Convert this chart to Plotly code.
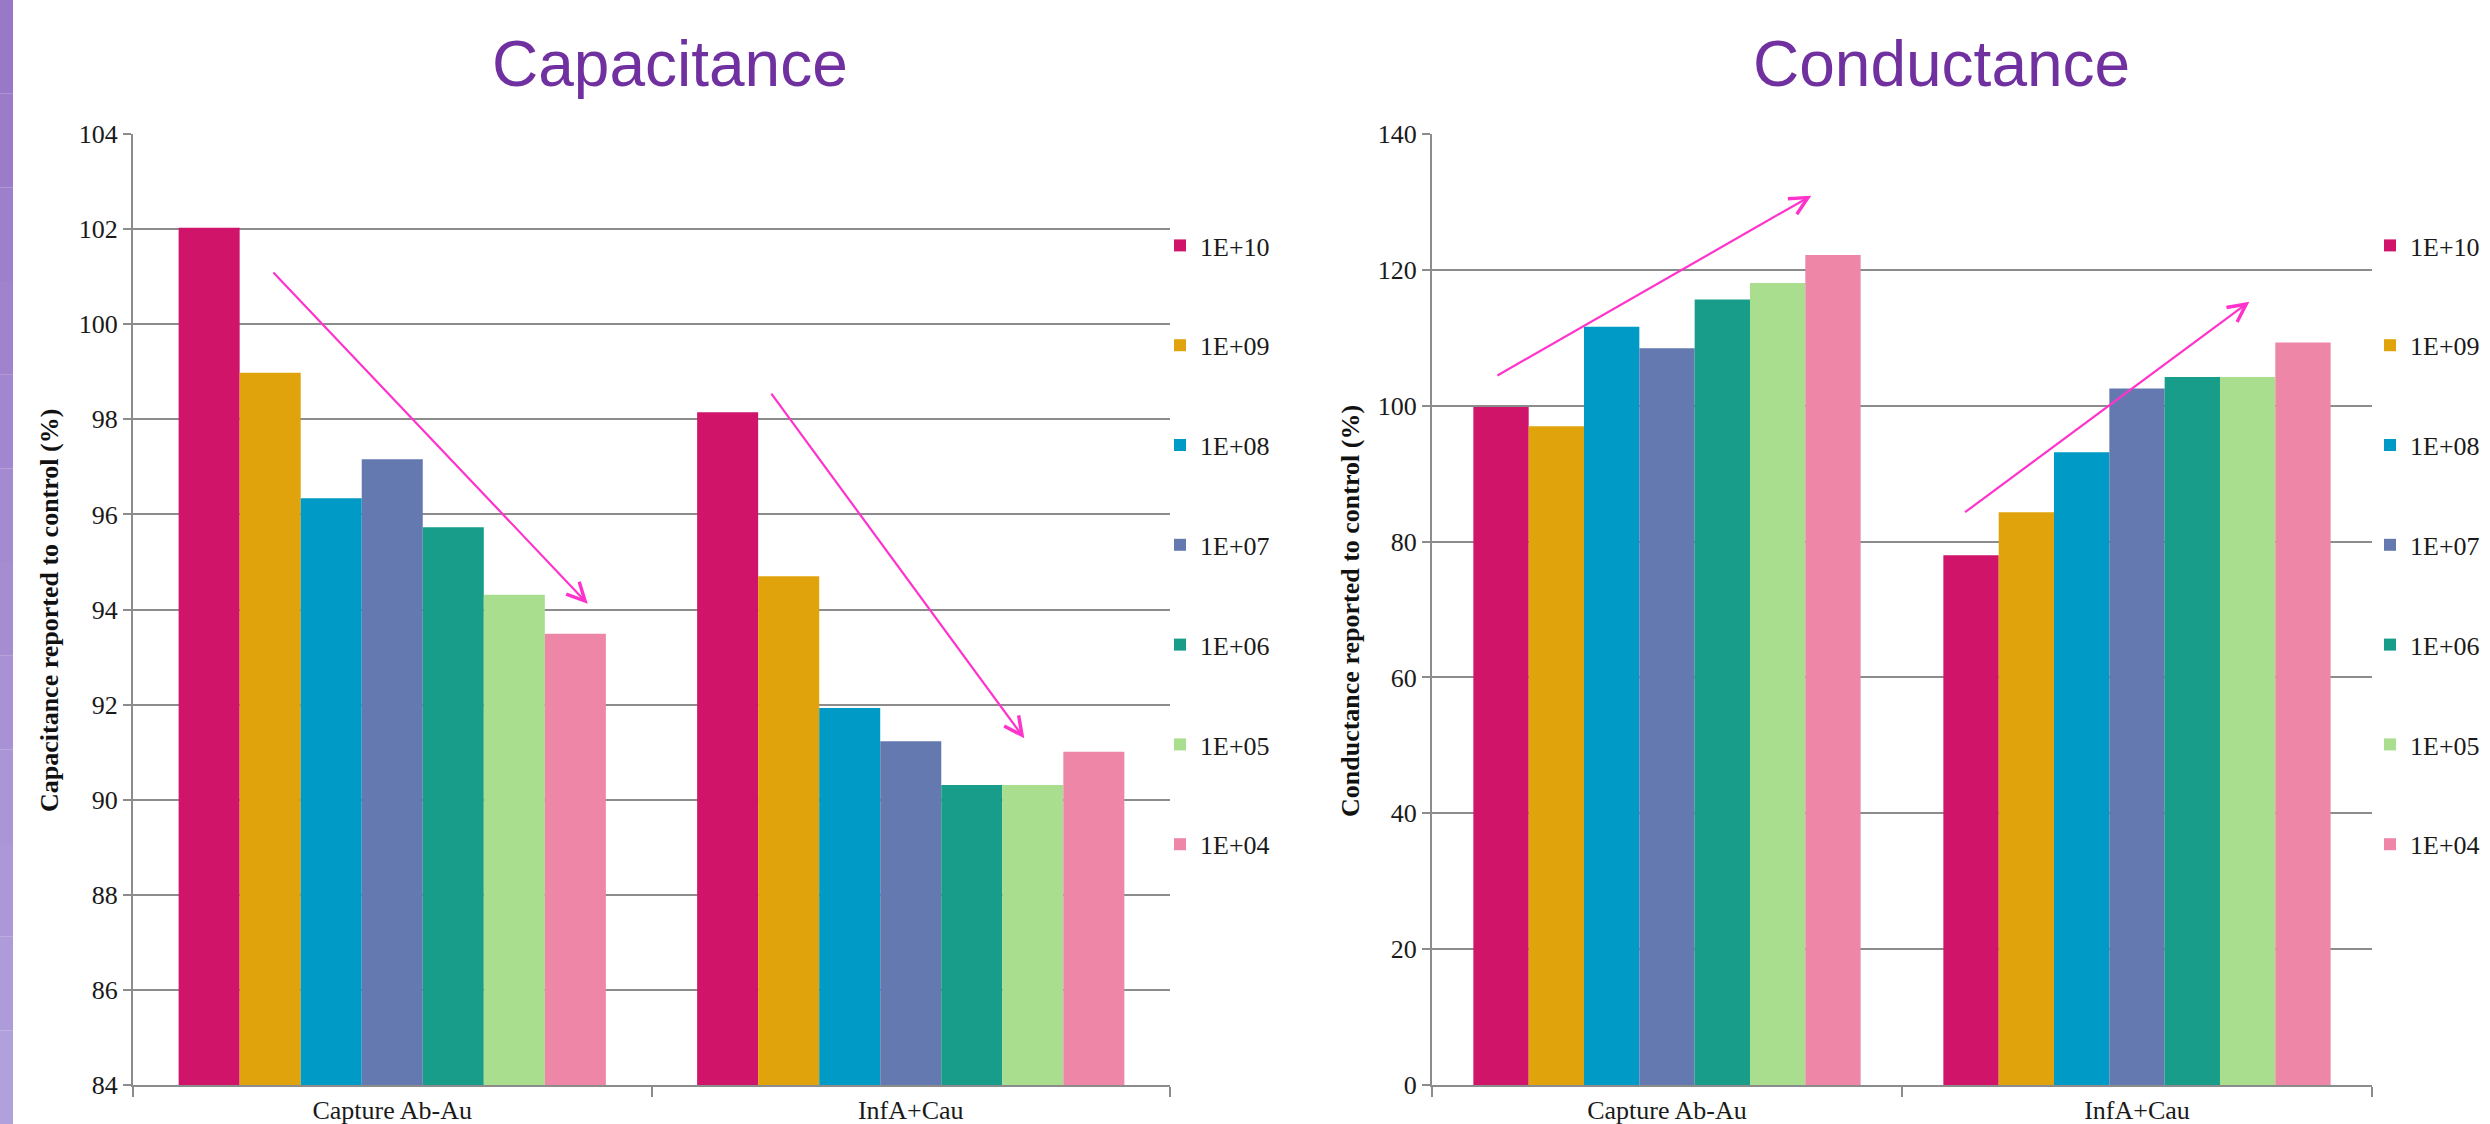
import plotly.graph_objects as go

categories = ["Capture Ab-Au", "InfA+Cau"]
series_names = ["1E+10", "1E+09", "1E+08", "1E+07", "1E+06", "1E+05", "1E+04"]
series_colors = ["#D0146A", "#E0A30B", "#009AC7", "#6579B1", "#179D89", "#A9DE8E", "#EE86A7"]

# Capacitance reported to control (%), [Capture Ab-Au, InfA+Cau]
cap_1E10 = [102.03, 98.15]
cap_1E09 = [98.98, 94.70]
cap_1E08 = [96.34, 91.93]
cap_1E07 = [97.16, 91.23]
cap_1E06 = [95.73, 90.31]
cap_1E05 = [94.31, 90.31]
cap_1E04 = [93.49, 91.01]

# Conductance reported to control (%), [Capture Ab-Au, InfA+Cau]
cond_1E10 = [99.8, 77.97]
cond_1E09 = [96.96, 84.3]
cond_1E08 = [111.62, 93.16]
cond_1E07 = [108.46, 102.55]
cond_1E06 = [115.63, 104.24]
cond_1E05 = [118.06, 104.24]
cond_1E04 = [122.17, 109.3]

cap_series = [cap_1E10, cap_1E09, cap_1E08, cap_1E07, cap_1E06, cap_1E05, cap_1E04]
cond_series = [cond_1E10, cond_1E09, cond_1E08, cond_1E07, cond_1E06, cond_1E05, cond_1E04]

W, H = 2490, 1124
SERIF = "Liberation Serif"
TICKFONT = dict(family=SERIF, size=26, color="#1A1A1A")
GRID = "#8C8C8C"

fig = go.Figure()
for i, name in enumerate(series_names):
    fig.add_trace(go.Bar(x=categories, y=cap_series[i], name=name, marker_color=series_colors[i],
                         marker_line_width=0, xaxis="x", yaxis="y", legend="legend",
                         legendgroup="L%d" % i))
for i, name in enumerate(series_names):
    fig.add_trace(go.Bar(x=categories, y=cond_series[i], name=name, marker_color=series_colors[i],
                         marker_line_width=0, xaxis="x2", yaxis="y2", legend="legend2",
                         legendgroup="R%d" % i))

ydom = [1 - 1085 / H, 1 - 134 / H]
xaxis_common = dict(type="category", showline=True, linecolor=GRID, linewidth=2, automargin=False,
                    ticks="outside", tickson="boundaries", ticklen=10, tickcolor=GRID, tickwidth=2,
                    ticklabelstandoff=1,
                    tickfont=TICKFONT, showgrid=False, zeroline=False, fixedrange=True)
yaxis_common = dict(showline=True, linecolor=GRID, linewidth=2, ticks="outside", ticklen=8,
                    tickcolor=GRID, tickwidth=2, tickfont=TICKFONT, showgrid=True, automargin=False,
                    gridcolor=GRID, gridwidth=2, zeroline=False, domain=ydom)

legend_common = dict(font=TICKFONT, bgcolor="rgba(0,0,0,0)", borderwidth=0,
                     tracegroupgap=63, traceorder="grouped", yanchor="top", xanchor="left",
                     itemclick=False, itemdoubleclick=False)

fig.update_layout(
    width=W, height=H, margin=dict(l=0, r=0, t=0, b=0, autoexpand=False),
    paper_bgcolor="white", plot_bgcolor="white",
    font=dict(family=SERIF),
    barmode="group", bargap=0.176, bargroupgap=0,
    xaxis=dict(domain=[133 / W, 1170 / W], anchor="y", **xaxis_common),
    yaxis=dict(range=[84, 104], dtick=2, anchor="x", **yaxis_common),
    xaxis2=dict(domain=[1432 / W, 2372 / W], anchor="y2", **xaxis_common),
    yaxis2=dict(range=[0, 140], dtick=20, anchor="x2", **yaxis_common),
    legend=dict(x=1160 / W, y=1 - 222 / H, **legend_common),
    legend2=dict(x=2370 / W, y=1 - 222 / H, **legend_common),
    showlegend=True,
)

# Titles
title_font = dict(family="Liberation Sans", size=64, color="#7030A0")
fig.add_annotation(text="Capacitance", x=670 / W, y=1 - 64 / H, xref="paper", yref="paper",
                   xanchor="center", yanchor="middle", showarrow=False, font=title_font)
fig.add_annotation(text="Conductance", x=1941 / W, y=1 - 64 / H, xref="paper", yref="paper",
                   xanchor="center", yanchor="middle", showarrow=False, font=title_font)

# Axis titles
ytitle_font = dict(family=SERIF, size=26, color="#111111")
fig.add_annotation(text="<b>Capacitance reported to control (%)</b>", x=49 / W, y=1 - 611 / H,
                   xref="paper", yref="paper", textangle=-90, showarrow=False,
                   xanchor="center", yanchor="middle", font=ytitle_font)
fig.add_annotation(text="<b>Conductance reported to control (%)</b>", x=1350 / W, y=1 - 611 / H,
                   xref="paper", yref="paper", textangle=-90, showarrow=False,
                   xanchor="center", yanchor="middle", font=ytitle_font)

# Trend arrows (data coordinates: category index, value)
ARROW = "#FF33CC"
arrows = [
    ("x", "y", -0.232, 101.12, 0.377, 94.12),
    ("x", "y", 0.729, 98.57, 1.219, 91.29),
    ("x2", "y2", -0.364, 104.33, 0.307, 130.92),
    ("x2", "y2", 0.631, 84.16, 1.239, 115.3),
]
for xr, yr, x0, y0, x1, y1 in arrows:
    fig.add_annotation(x=x1, y=y1, ax=x0, ay=y0, xref=xr, yref=yr, axref=xr, ayref=yr,
                       showarrow=True, arrowhead=5, arrowsize=1.6, arrowwidth=2.2,
                       arrowcolor=ARROW, standoff=0, text="")

# Left decorative strip (gradient approximated by bands)
n = 12
for k in range(n):
    t = k / (n - 1)
    r = int(0x9A + (0xB0 - 0x9A) * t)
    g = int(0x78 + (0xA0 - 0x78) * t)
    b = int(0xC8 + (0xDC - 0xC8) * t)
    fig.add_shape(type="rect", xref="paper", yref="paper", x0=0, x1=13 / W,
                  y0=1 - (k + 1) / n, y1=1 - k / n, fillcolor="rgb(%d,%d,%d)" % (r, g, b),
                  line_width=0, layer="above")

fig.write_html(
    "out.html",
    post_script="document.body.style.margin='0';document.body.style.overflow='hidden';",
)
